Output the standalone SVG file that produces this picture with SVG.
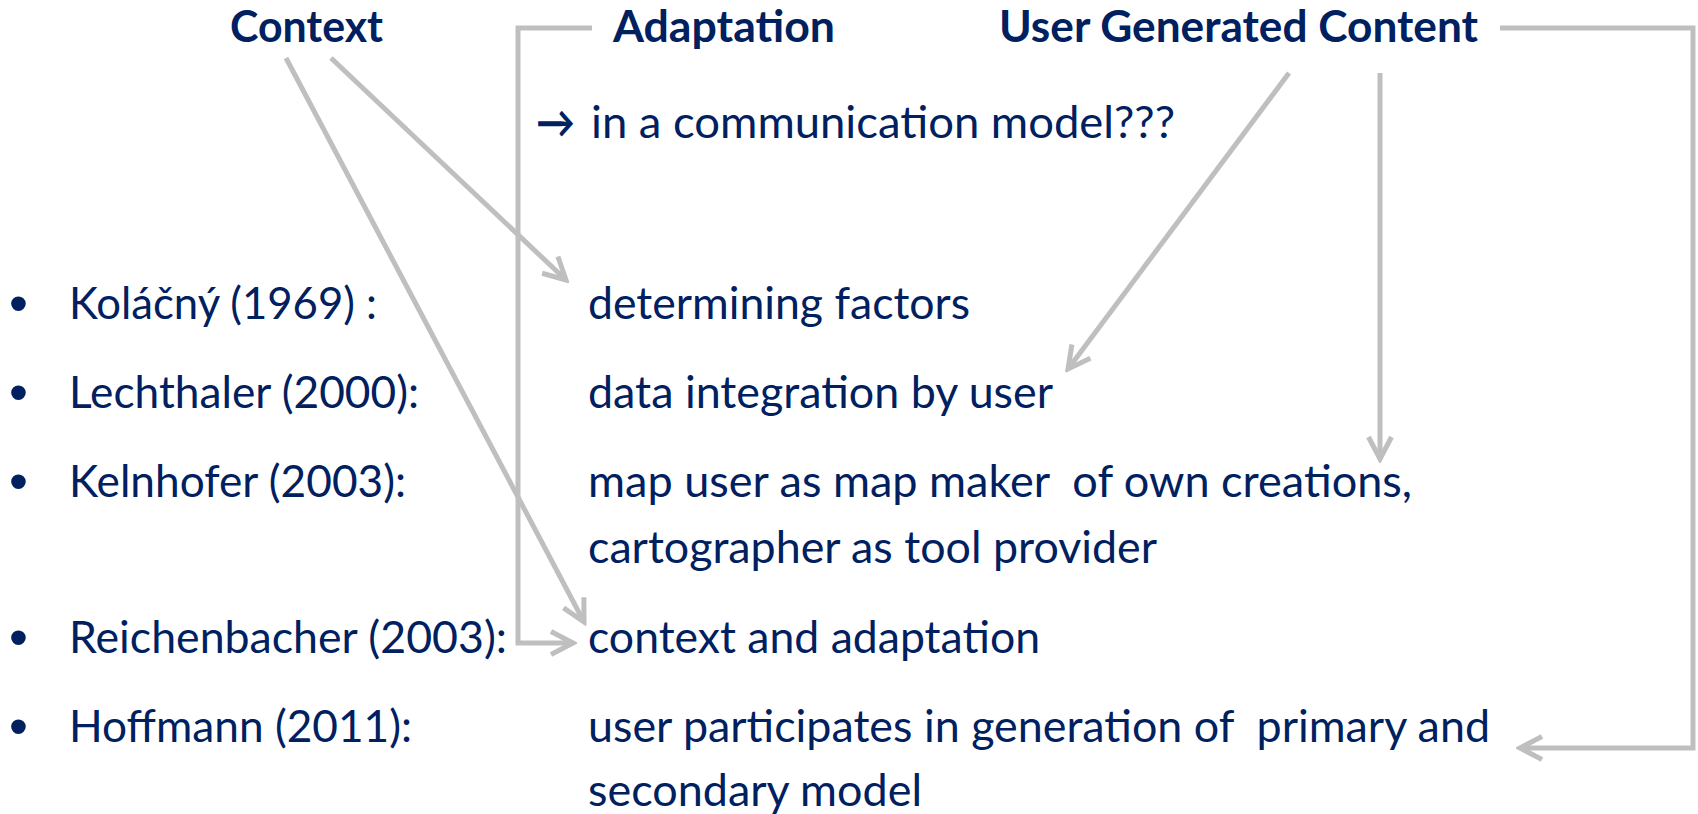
<svg xmlns="http://www.w3.org/2000/svg" width="1698" height="814" viewBox="0 0 1698 814">
  <style>
    text { font-family: Lato, "Open Sans", "Liberation Sans", sans-serif; fill: #002060; font-size: 44px; white-space: pre; }
    .head { font-weight: 700; }
    .bullet { font-family: "Liberation Sans", Arial, sans-serif; font-size: 54px; }
    .conn { fill: none; stroke: #bfbfbf; stroke-width: 5; stroke-linejoin: miter; }
  </style>
  <defs>
    <marker id="chev" markerUnits="userSpaceOnUse" viewBox="-30 -16 34 32" markerWidth="34" markerHeight="32" refX="0" refY="0" orient="auto">
      <path d="M-22,-11.5 L0,0 L-22,11.5" fill="none" stroke="#bfbfbf" stroke-width="5" stroke-linejoin="miter"/>
    </marker>
  </defs>
  <rect width="1698" height="814" fill="#ffffff"/>

  <!-- connectors -->
  <g id="connectors">
    <line class="conn" x1="331" y1="58" x2="566" y2="280" marker-end="url(#chev)"/>
    <line class="conn" x1="286" y1="58" x2="584" y2="622" marker-end="url(#chev)"/>
    <polyline class="conn" points="592,28 518,28 518,643 573,643" marker-end="url(#chev)"/>
    <line class="conn" x1="1289" y1="73" x2="1068" y2="369" marker-end="url(#chev)"/>
    <line class="conn" x1="1380" y1="73" x2="1380" y2="459" marker-end="url(#chev)"/>
    <polyline class="conn" points="1500,28 1693,28 1693,748 1520,748" marker-end="url(#chev)"/>
  </g>

  <!-- column headings -->
  <g id="head-context"><text class="head" x="230" y="42" textLength="153" lengthAdjust="spacingAndGlyphs">Context</text></g>
  <g id="head-adaptation"><text class="head" x="613" y="42" textLength="222" lengthAdjust="spacingAndGlyphs">Adaptation</text></g>
  <g id="head-ugc"><text class="head" x="999" y="42" textLength="479" lengthAdjust="spacingAndGlyphs">User Generated Content</text></g>

  <!-- question line -->
  <g id="question">
    <text x="536" y="138" textLength="39" lengthAdjust="spacingAndGlyphs" style="font-weight:700">→</text>
    <text x="591" y="138" textLength="584" lengthAdjust="spacingAndGlyphs">in a communication model???</text>
  </g>

  <!-- authors -->
  <g id="author-kolacny">
    <text class="bullet" x="9" y="322">•</text>
    <text x="69" y="319" textLength="308" lengthAdjust="spacingAndGlyphs">Koláčný (1969) :</text>
  </g>
  <g id="author-lechthaler">
    <text class="bullet" x="9" y="411">•</text>
    <text x="69" y="408" textLength="350" lengthAdjust="spacingAndGlyphs">Lechthaler (2000):</text>
  </g>
  <g id="author-kelnhofer">
    <text class="bullet" x="9" y="500">•</text>
    <text x="69" y="497" textLength="337" lengthAdjust="spacingAndGlyphs">Kelnhofer (2003):</text>
  </g>
  <g id="author-reichenbacher">
    <text class="bullet" x="9" y="656">•</text>
    <text x="69" y="653" textLength="438" lengthAdjust="spacingAndGlyphs">Reichenbacher (2003):</text>
  </g>
  <g id="author-hoffmann">
    <text class="bullet" x="9" y="745">•</text>
    <text x="69" y="742" textLength="343" lengthAdjust="spacingAndGlyphs">Hoffmann (2011):</text>
  </g>

  <!-- contributions -->
  <g id="desc-kolacny"><text x="588" y="319" textLength="382" lengthAdjust="spacingAndGlyphs">determining factors</text></g>
  <g id="desc-lechthaler"><text x="588" y="408" textLength="465" lengthAdjust="spacingAndGlyphs">data integration by user</text></g>
  <g id="desc-kelnhofer">
    <text x="588" y="497" textLength="824" lengthAdjust="spacingAndGlyphs">map user as map maker  of own creations,</text>
    <text x="588" y="563" textLength="569" lengthAdjust="spacingAndGlyphs">cartographer as tool provider</text>
  </g>
  <g id="desc-reichenbacher"><text x="588" y="653" textLength="452" lengthAdjust="spacingAndGlyphs">context and adaptation</text></g>
  <g id="desc-hoffmann">
    <text x="588" y="742" textLength="902" lengthAdjust="spacingAndGlyphs">user participates in generation of  primary and</text>
    <text x="588" y="806" textLength="334" lengthAdjust="spacingAndGlyphs">secondary model</text>
  </g>
</svg>
